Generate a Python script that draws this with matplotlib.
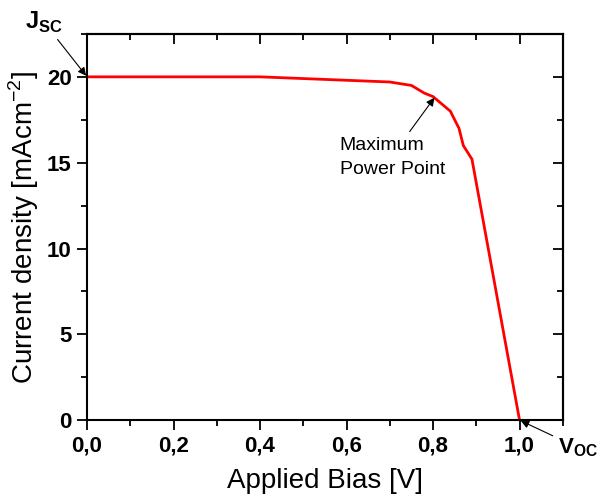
import numpy as np
import matplotlib.pyplot as plt
from matplotlib.ticker import MultipleLocator, FuncFormatter

plt.rcParams['font.family'] = ['Liberation Sans', 'DejaVu Sans']
plt.rcParams['font.weight'] = 'bold'

# J-V curve
bias = [0.0, 0.4, 0.7, 0.75, 0.78, 0.80, 0.84, 0.86, 0.87, 0.89, 1.0]
current = [20.0, 20.0, 19.7, 19.5, 19.05, 18.85, 18.0, 17.0, 16.0, 15.2, 0.0]

JSC = (0.0, 20.0)
MPP = (0.805, 18.85)
VOC = (1.0, 0.0)

fig = plt.figure(figsize=(6, 4.99), dpi=100)
ax = fig.add_axes([0.145, 0.158, 0.793, 0.774])

ax.plot(bias, current, color='#ff0000', lw=2)

ax.set_xlim(0, 1.1)
ax.set_ylim(0, 22.5)
ax.xaxis.set_major_locator(MultipleLocator(0.2))
ax.xaxis.set_minor_locator(MultipleLocator(0.1))
ax.yaxis.set_major_locator(MultipleLocator(5))
ax.yaxis.set_minor_locator(MultipleLocator(2.5))
ax.xaxis.set_major_formatter(FuncFormatter(lambda v, p: f"{v:.1f}".replace('.', ',')))

ax.tick_params(which='both', direction='out', width=1.3, labelsize=16, pad=4)
ax.tick_params(which='major', length=7)
ax.tick_params(which='minor', length=4)

# mirrored inward ticks on top and right
axt = ax.secondary_xaxis('top')
axt.xaxis.set_major_locator(MultipleLocator(0.2))
axt.xaxis.set_minor_locator(MultipleLocator(0.1))
axt.tick_params(which='both', direction='in', width=1.3, labeltop=False)
axt.tick_params(which='major', length=7)
axt.tick_params(which='minor', length=4)
axr = ax.secondary_yaxis('right')
axr.yaxis.set_major_locator(MultipleLocator(5))
axr.yaxis.set_minor_locator(MultipleLocator(2.5))
axr.tick_params(which='both', direction='in', width=1.3, labelright=False)
axr.tick_params(which='major', length=7)
axr.tick_params(which='minor', length=4)
for s in list(ax.spines.values()) + [axt.spines['top'], axr.spines['right']]:
    s.set_linewidth(1.5)

ax.set_xlabel('Applied Bias [V]', fontsize=20, fontweight='normal', labelpad=8)
ax.set_ylabel('Current density [mAcm$^{\\mathregular{-2}}$]', fontsize=20,
              fontweight='normal', labelpad=4)

arrow = dict(arrowstyle='-|>', color='black', lw=0.8, mutation_scale=12)
ax.annotate('J$_{\\mathregular{SC}}$', xy=JSC, xytext=(-0.1, 23.2),
            fontsize=17, ha='center', va='center',
            arrowprops=dict(arrow, shrinkB=1), annotation_clip=False)
ax.annotate('Maximum\nPower Point', xy=MPP, xytext=(0.584, 15.3),
            fontsize=14, fontweight='normal', ha='left', va='center',
            multialignment='left', linespacing=1.6,
            arrowprops=dict(arrow, shrinkA=2, shrinkB=1, relpos=(0.63, 1.0)))
ax.annotate('V$_{\\mathregular{OC}}$', xy=VOC, xytext=(1.135, -1.6),
            fontsize=16, ha='center', va='center',
            arrowprops=dict(arrow, shrinkB=1), annotation_clip=False)

fig.savefig('out.png', dpi=100)
